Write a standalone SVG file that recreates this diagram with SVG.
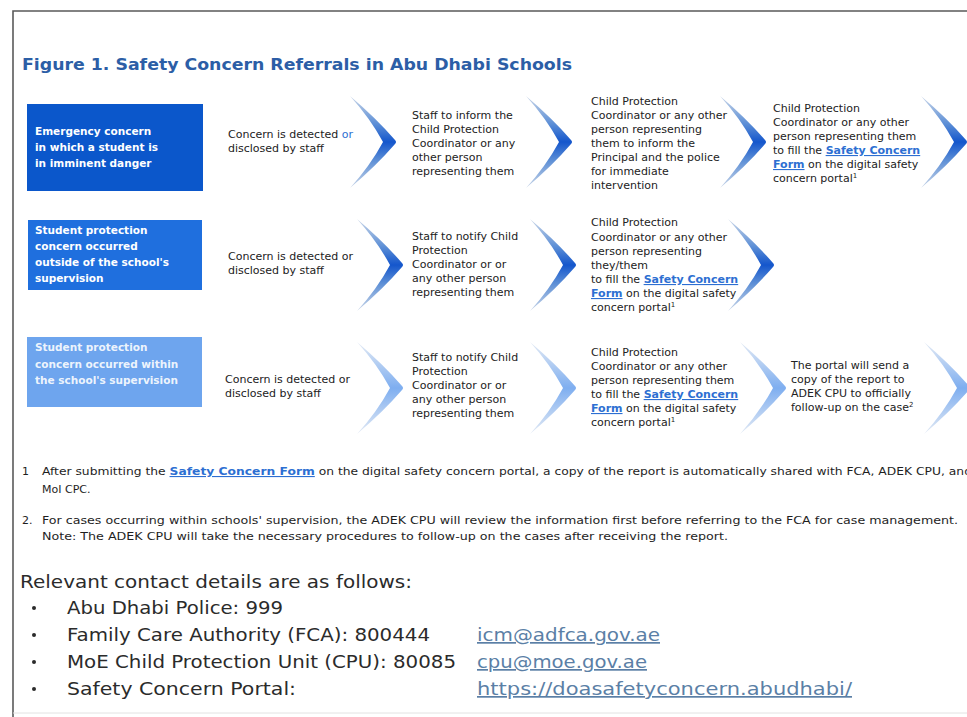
<svg xmlns="http://www.w3.org/2000/svg" width="967" height="717" viewBox="0 0 967 717">
<defs>
<linearGradient id="gDark" x1="0" y1="0" x2="0" y2="1">
<stop offset="0" stop-color="#c9d6e8"/>
<stop offset="0.3" stop-color="#5d8fd6"/>
<stop offset="0.5" stop-color="#1456cc"/>
<stop offset="0.7" stop-color="#5d8fd6"/>
<stop offset="1" stop-color="#c9d6e8"/>
</linearGradient>
<linearGradient id="gLight" x1="0" y1="0" x2="0" y2="1">
<stop offset="0" stop-color="#e3eaf4"/>
<stop offset="0.5" stop-color="#7eaef0"/>
<stop offset="1" stop-color="#e3eaf4"/>
</linearGradient>
<path id="chev" d="M0,0 Q26,22 45,44 Q47,46 45,48 Q26,70 0,92 Q20,70 33,46 Q20,22 0,0 Z"/>
</defs>
<style>
.t{font-family:"DejaVu Sans","Liberation Sans",sans-serif;font-size:11px;fill:#222}
.bx{font-family:"DejaVu Sans","Liberation Sans",sans-serif;font-size:10.5px;font-weight:bold;fill:#fff}
.lk{fill:#2d6fd2;font-weight:bold;text-decoration:underline}
.bl{fill:#2d6fd2}
.fn{font-family:"DejaVu Sans","Liberation Sans",sans-serif;font-size:11px;fill:#1e1e1e}
.ct{font-family:"DejaVu Sans","Liberation Sans",sans-serif;font-size:17px;fill:#2b2b2b}
.ul{font-family:"DejaVu Sans","Liberation Sans",sans-serif;font-size:17px;fill:#5b7fa6;text-decoration:underline}
</style>
<rect width="967" height="717" fill="#fff"/>
<path d="M13,717 V11 H967" fill="none" stroke="#5a5a5a" stroke-width="1.6"/>
<line x1="13" y1="713" x2="967" y2="713" stroke="#e2e2e2" stroke-width="1"/>

<text id="title" x="22" y="70" font-family="DejaVu Sans, Liberation Sans, sans-serif" font-size="16" font-weight="bold" fill="#2c5ea6" textLength="550" lengthAdjust="spacingAndGlyphs">Figure 1. Safety Concern Referrals in Abu Dhabi Schools</text>

<g id="connectors">
<use href="#chev" x="350" y="96" fill="url(#gDark)"/>
<use href="#chev" x="526" y="96" fill="url(#gDark)"/>
<use href="#chev" x="720" y="96" fill="url(#gDark)"/>
<use href="#chev" x="921" y="96" fill="url(#gDark)"/>
<use href="#chev" x="357" y="219" fill="url(#gDark)"/>
<use href="#chev" x="530" y="219" fill="url(#gDark)"/>
<use href="#chev" x="728" y="219" fill="url(#gDark)"/>
<use href="#chev" x="357" y="342" fill="url(#gLight)"/>
<use href="#chev" x="530" y="342" fill="url(#gLight)"/>
<use href="#chev" x="740" y="342" fill="url(#gLight)"/>
<use href="#chev" x="924" y="342" fill="url(#gLight)"/>
</g>

<g id="r1-box">
<rect x="27" y="104" width="176" height="87" fill="#0b57cb"/>
<text class="bx"><tspan x="35" y="135">Emergency concern</tspan><tspan x="35" y="151">in which a student is</tspan><tspan x="35" y="167">in imminent danger</tspan></text>
</g>
<g id="r1-s1">
<text class="t"><tspan x="228" y="138">Concern is detected <tspan class="bl">or</tspan></tspan><tspan x="228" y="152">disclosed by staff</tspan></text>
</g>
<g id="r1-s2">
<text class="t"><tspan x="412" y="119">Staff to inform the</tspan><tspan x="412" y="133">Child Protection</tspan><tspan x="412" y="147">Coordinator or any</tspan><tspan x="412" y="161">other person</tspan><tspan x="412" y="175">representing them</tspan></text>
</g>
<g id="r1-s3">
<text class="t"><tspan x="591" y="105">Child Protection</tspan><tspan x="591" y="119">Coordinator or any other</tspan><tspan x="591" y="133">person representing</tspan><tspan x="591" y="147">them to inform the</tspan><tspan x="591" y="161">Principal and the police</tspan><tspan x="591" y="175">for immediate</tspan><tspan x="591" y="189">intervention</tspan></text>
</g>
<g id="r1-s4">
<text class="t"><tspan x="773" y="112">Child Protection</tspan><tspan x="773" y="126">Coordinator or any other</tspan><tspan x="773" y="140">person representing them</tspan><tspan x="773" y="154">to fill the <tspan class="lk">Safety Concern</tspan></tspan><tspan x="773" y="168"><tspan class="lk">Form</tspan> on the digital safety</tspan><tspan x="773" y="182">concern portal<tspan font-size="7" dy="-4">1</tspan></tspan></text>
</g>

<g id="r2-box">
<rect x="28" y="220" width="174" height="70" fill="#1f6fde"/>
<text class="bx"><tspan x="35" y="234">Student protection</tspan><tspan x="35" y="250">concern occurred</tspan><tspan x="35" y="266">outside of the school's</tspan><tspan x="35" y="282">supervision</tspan></text>
</g>
<g id="r2-s1">
<text class="t"><tspan x="228" y="260">Concern is detected or</tspan><tspan x="228" y="274">disclosed by staff</tspan></text>
</g>
<g id="r2-s2">
<text class="t"><tspan x="412" y="240">Staff to notify Child</tspan><tspan x="412" y="254">Protection</tspan><tspan x="412" y="268">Coordinator or or</tspan><tspan x="412" y="282">any other person</tspan><tspan x="412" y="296">representing them</tspan></text>
</g>
<g id="r2-s3">
<text class="t"><tspan x="591" y="226">Child Protection</tspan><tspan x="591" y="241">Coordinator or any other</tspan><tspan x="591" y="255">person representing</tspan><tspan x="591" y="269">they/them</tspan><tspan x="591" y="283">to fill the <tspan class="lk">Safety Concern</tspan></tspan><tspan x="591" y="297"><tspan class="lk">Form</tspan> on the digital safety</tspan><tspan x="591" y="311">concern portal<tspan font-size="7" dy="-4">1</tspan></tspan></text>
</g>

<g id="r3-box">
<rect x="27" y="337" width="175" height="70" fill="#6ea5ee"/>
<text class="bx" fill-opacity="0.9"><tspan x="35" y="351">Student protection</tspan><tspan x="35" y="368">concern occurred within</tspan><tspan x="35" y="384">the school's supervision</tspan></text>
</g>
<g id="r3-s1">
<text class="t"><tspan x="225" y="383">Concern is detected or</tspan><tspan x="225" y="397">disclosed by staff</tspan></text>
</g>
<g id="r3-s2">
<text class="t"><tspan x="412" y="361">Staff to notify Child</tspan><tspan x="412" y="375">Protection</tspan><tspan x="412" y="389">Coordinator or or</tspan><tspan x="412" y="403">any other person</tspan><tspan x="412" y="417">representing them</tspan></text>
</g>
<g id="r3-s3">
<text class="t"><tspan x="591" y="356">Child Protection</tspan><tspan x="591" y="370">Coordinator or any other</tspan><tspan x="591" y="384">person representing them</tspan><tspan x="591" y="398">to fill the <tspan class="lk">Safety Concern</tspan></tspan><tspan x="591" y="412"><tspan class="lk">Form</tspan> on the digital safety</tspan><tspan x="591" y="426">concern portal<tspan font-size="7" dy="-4">1</tspan></tspan></text>
</g>
<g id="r3-s4">
<text class="t"><tspan x="791" y="369">The portal will send a</tspan><tspan x="791" y="383">copy of the report to</tspan><tspan x="791" y="397">ADEK CPU to officially</tspan><tspan x="791" y="411">follow-up on the case<tspan font-size="7" dy="-4">2</tspan></tspan></text>
</g>

<g id="footnotes">
<text class="fn" x="22" y="475">1</text>
<text class="fn" x="42" y="475" textLength="930" lengthAdjust="spacingAndGlyphs">After submitting the <tspan class="lk">Safety Concern Form</tspan> on the digital safety concern portal, a copy of the report is automatically shared with FCA, ADEK CPU, and</text>
<text class="fn" x="42" y="493">MoI CPC.</text>
<text class="fn" x="22" y="524">2.</text>
<text class="fn" x="42" y="524" textLength="916" lengthAdjust="spacingAndGlyphs">For cases occurring within schools' supervision, the ADEK CPU will review the information first before referring to the FCA for case management.</text>
<text class="fn" x="42" y="540" textLength="686" lengthAdjust="spacingAndGlyphs">Note: The ADEK CPU will take the necessary procedures to follow-up on the cases after receiving the report.</text>
</g>

<g id="contacts">
<text class="ct" x="20" y="588" textLength="392" lengthAdjust="spacingAndGlyphs">Relevant contact details are as follows:</text>
<circle cx="34" cy="608" r="2" fill="#2b2b2b"/>
<circle cx="34" cy="635" r="2" fill="#2b2b2b"/>
<circle cx="34" cy="662" r="2" fill="#2b2b2b"/>
<circle cx="34" cy="689" r="2" fill="#2b2b2b"/>
<text class="ct" x="67" y="614" textLength="216" lengthAdjust="spacingAndGlyphs">Abu Dhabi Police: 999</text>
<text class="ct" x="67" y="641" textLength="363" lengthAdjust="spacingAndGlyphs">Family Care Authority (FCA): 800444</text>
<text class="ct" x="67" y="668" textLength="389" lengthAdjust="spacingAndGlyphs">MoE Child Protection Unit (CPU): 80085</text>
<text class="ct" x="67" y="695" textLength="229" lengthAdjust="spacingAndGlyphs">Safety Concern Portal:</text>
<text class="ul" x="477" y="641" textLength="183" lengthAdjust="spacingAndGlyphs">icm@adfca.gov.ae</text>
<text class="ul" x="477" y="668" textLength="170" lengthAdjust="spacingAndGlyphs">cpu@moe.gov.ae</text>
<text class="ul" x="477" y="695" textLength="375" lengthAdjust="spacingAndGlyphs" fill="#4f5f66">https://doasafetyconcern.abudhabi/</text>
</g>
</svg>
